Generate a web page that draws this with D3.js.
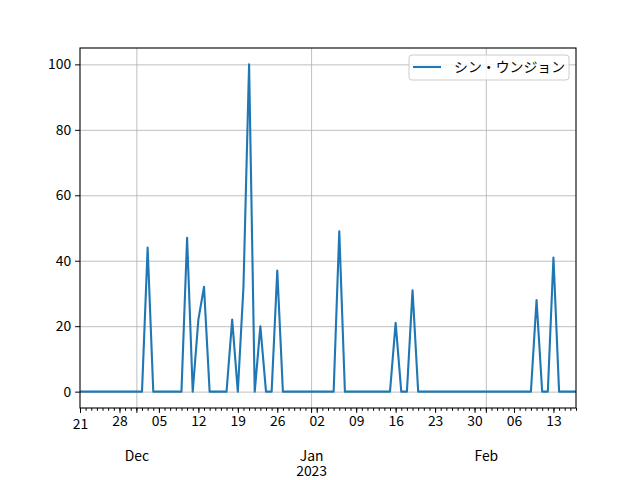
<!DOCTYPE html>
<html>
<head>
<meta charset="utf-8">
<script src="https://cdn.jsdelivr.net/npm/d3@7"></script>
<style>
  body { margin: 0; background: #fff; }
  text { font-family: "Noto Sans CJK JP", "Noto Sans", sans-serif; }
</style>
</head>
<body>
<div id="vis"></div>
<script>
// daily counts, one per day starting 2022-11-21
var startDate = "2022-11-21";
var seriesName = "シン・ウンジョン";
var values = [
  0, 0, 0, 0, 0, 0, 0, 0, 0, 0, 0, 0,   // Nov 21 - Dec 2
  44, 0, 0, 0, 0, 0, 0,                  // Dec 3 - Dec 9
  47, 0, 22, 32, 0, 0, 0, 0,             // Dec 10 - Dec 17
  22, 0, 32, 100, 0, 20, 0, 0, 37,       // Dec 18 - Dec 26
  0, 0, 0, 0, 0, 0, 0, 0, 0, 0,          // Dec 27 - Jan 5
  49, 0, 0, 0, 0, 0, 0, 0, 0, 0,         // Jan 6 - Jan 15
  21, 0, 0, 31,                          // Jan 16 - Jan 19
  0, 0, 0, 0, 0, 0, 0, 0, 0, 0, 0,       // Jan 20 - Jan 30
  0, 0, 0, 0, 0, 0, 0, 0, 0, 0,          // Jan 31 - Feb 9
  28, 0, 0, 41, 0, 0, 0, 0               // Feb 10 - Feb 17
];
var yTicks = [0, 20, 40, 60, 80, 100];
var yDomain = [-5, 105];

var width = 640, height = 480;
var margin = {top: 48, right: 64, bottom: 72, left: 80};

var svg = d3.select("#vis").append("svg")
  .attr("width", width)
  .attr("height", height);

var t0 = new Date(startDate + "T00:00:00Z");
var data = values.map(function(v, i) {
  return {date: d3.utcDay.offset(t0, i), value: v};
});

var x = d3.scaleUtc()
  .domain(d3.extent(data, function(d) { return d.date; }))
  .range([margin.left, width - margin.right]);
var y = d3.scaleLinear()
  .domain(yDomain)
  .range([height - margin.bottom, margin.top]);

var x0 = margin.left, x1 = width - margin.right;
var y0 = height - margin.bottom, y1 = margin.top;

var months = d3.utcMonth.range(x.domain()[0], d3.utcDay.offset(x.domain()[1], 1));
var weeks = d3.utcMonday.range(x.domain()[0], d3.utcDay.offset(x.domain()[1], 1));
var days = d3.utcDay.range(x.domain()[0], d3.utcDay.offset(x.domain()[1], 1));

// grid
svg.append("g")
  .attr("transform", "translate(0," + y0 + ")")
  .call(d3.axisBottom(x).tickValues(months).tickSize(-(y0 - y1)).tickFormat(""))
  .call(function(g) {
    g.select(".domain").remove();
    g.selectAll("line").attr("stroke", "#b0b0b0").attr("stroke-width", 0.8);
  });
svg.append("g")
  .attr("transform", "translate(" + x0 + ",0)")
  .call(d3.axisLeft(y).tickValues(yTicks).tickSize(-(x1 - x0)).tickFormat(""))
  .call(function(g) {
    g.select(".domain").remove();
    g.selectAll("line").attr("stroke", "#b0b0b0").attr("stroke-width", 0.8);
  });

// the line
var line = d3.line()
  .x(function(d) { return x(d.date); })
  .y(function(d) { return y(d.value); });

svg.append("path")
  .datum(data)
  .attr("fill", "none")
  .attr("stroke", "#1f77b4")
  .attr("stroke-width", 2.1)
  .attr("stroke-linejoin", "round")
  .attr("d", line);

// frame
svg.append("rect")
  .attr("x", x0).attr("y", y1)
  .attr("width", x1 - x0).attr("height", y0 - y1)
  .attr("fill", "none")
  .attr("stroke", "#000")
  .attr("stroke-width", 1.1);

// daily ticks
svg.append("g")
  .attr("transform", "translate(0," + y0 + ")")
  .call(d3.axisBottom(x).tickValues(days).tickSize(2.8).tickFormat(""))
  .call(function(g) { g.select(".domain").remove(); });

// weekly ticks with day numbers
svg.append("g")
  .attr("class", "weeks")
  .attr("transform", "translate(0," + y0 + ")")
  .call(d3.axisBottom(x).tickValues(weeks).tickSize(4.9).tickPadding(3).tickFormat(d3.utcFormat("%d")))
  .call(function(g) {
    g.select(".domain").remove();
    g.selectAll("text").attr("font-size", "13.9px").attr("fill", "#000")
      .attr("font-family", "'Noto Sans CJK JP', sans-serif");
    // the first label sits a bit lower, as in the original
    g.selectAll("text").filter(function(d, i) { return i === 0; }).attr("dy", "0.95em");
  });

// month ticks
svg.append("g")
  .attr("transform", "translate(0," + y0 + ")")
  .call(d3.axisBottom(x).tickValues(months).tickSize(4.9).tickPadding(38).tickFormat(d3.utcFormat("%b")))
  .call(function(g) {
    g.select(".domain").remove();
    g.selectAll("text").attr("font-size", "13.9px").attr("fill", "#000")
      .attr("font-family", "'Noto Sans CJK JP', sans-serif");
    g.selectAll(".tick").filter(function(d) { return d.getUTCMonth() === 0; })
      .append("text")
      .attr("y", 4.9 + 38)
      .attr("dy", "1.82em")
      .attr("font-size", "13.9px")
      .attr("fill", "#000")
      .attr("font-family", "'Noto Sans CJK JP', sans-serif")
      .text(function(d) { return d.getUTCFullYear(); });
  });

// y axis
svg.append("g")
  .attr("transform", "translate(" + x0 + ",0)")
  .call(d3.axisLeft(y).tickValues(yTicks).tickSize(4.9).tickPadding(4))
  .call(function(g) {
    g.select(".domain").remove();
    g.selectAll("text").attr("font-size", "13.9px").attr("fill", "#000")
      .attr("font-family", "'Noto Sans CJK JP', sans-serif");
  });

// legend
var legend = svg.append("g").attr("transform", "translate(409,55)");
legend.append("rect")
  .attr("width", 160).attr("height", 25)
  .attr("rx", 3)
  .attr("fill", "#fff").attr("fill-opacity", 0.8)
  .attr("stroke", "#cccccc").attr("stroke-width", 1);
legend.append("line")
  .attr("x1", 4).attr("x2", 32)
  .attr("y1", 12).attr("y2", 12)
  .attr("stroke", "#1f77b4").attr("stroke-width", 2.1);
legend.append("text")
  .attr("x", 45).attr("y", 17)
  .attr("font-size", "13.9px")
  .attr("fill", "#000")
  .text(seriesName);
</script>
</body>
</html>
